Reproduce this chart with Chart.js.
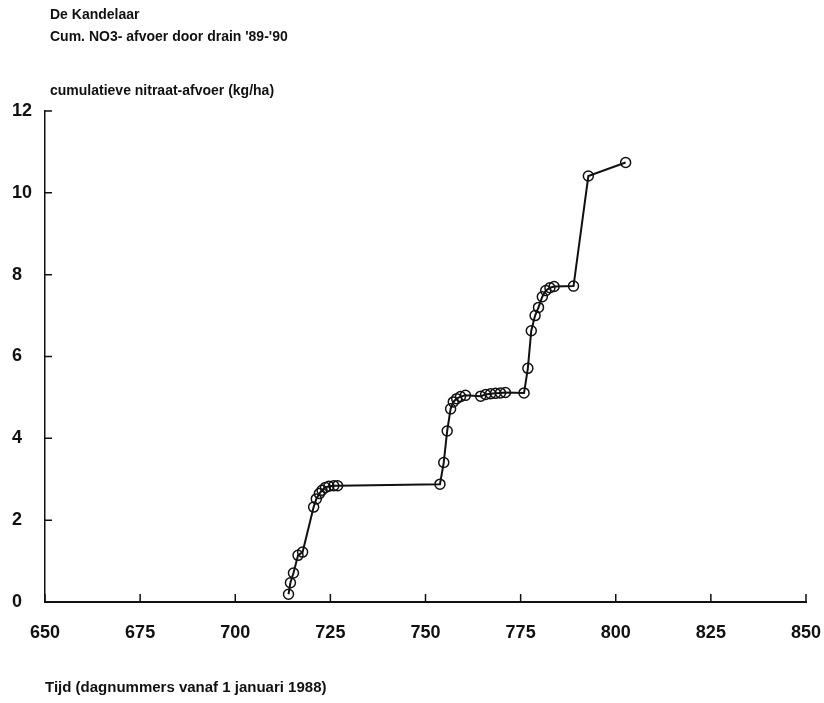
<!DOCTYPE html>
<html>
<head>
<meta charset="utf-8">
<script src="https://cdn.jsdelivr.net/npm/chart.js@4"></script>
<style>
  html, body { margin: 0; padding: 0; background: #fff; }
  #wrap { width: 824px; height: 703px; }
</style>
</head>
<body>
<div id="wrap"><canvas id="grafiek"></canvas></div>
<script>
// gegevens
const dagen = [714, 714.5, 715.3, 716.5, 717.7, 720.6, 721.3, 722.1, 722.8, 723.7, 724.6, 725.9, 726.9,
  753.8, 754.8, 755.7, 756.6, 757.3, 758.2, 759.2, 760.5, 764.5, 765.8, 767.1, 768.4, 769.7, 771,
  775.9, 776.9, 777.8, 778.8, 779.7, 780.7, 781.6, 782.7, 783.8, 788.9, 792.8, 802.6];
const afvoer = [0.19, 0.47, 0.71, 1.14, 1.22, 2.32, 2.52, 2.65, 2.73, 2.8, 2.83, 2.84, 2.84,
  2.88, 3.41, 4.18, 4.72, 4.89, 4.97, 5.02, 5.05, 5.03, 5.07, 5.09, 5.1, 5.11, 5.12,
  5.11, 5.71, 6.63, 7.0, 7.2, 7.46, 7.61, 7.68, 7.71, 7.72, 10.41, 10.74];
const xTicks = [650, 675, 700, 725, 750, 775, 800, 825, 850];
const yTicks = [0, 2, 4, 6, 8, 10, 12];

const titel = 'De Kandelaar';
const subtitel = "Cum. NO3- afvoer door drain '89-'90";
const yTitel = 'cumulatieve nitraat-afvoer (kg/ha)';
const xTitel = 'Tijd (dagnummers vanaf 1 januari 1988)';

const punten = dagen.map((d, i) => ({ x: d, y: afvoer[i] }));
const lettertype = '"Liberation Sans", Arial, sans-serif';

// teksten boven de grafiek en tickstreepjes naar binnen
const extra = {
  id: 'extra',
  afterDraw(chart) {
    const { ctx, chartArea, scales } = chart;
    ctx.save();
    ctx.fillStyle = '#111';
    ctx.textBaseline = 'middle';
    ctx.textAlign = 'left';
    ctx.font = 'bold 14px ' + lettertype;
    ctx.fillText(titel, chartArea.left + 5, 15);
    ctx.fillText(subtitel, chartArea.left + 5, 37);
    ctx.fillText(yTitel, chartArea.left + 5, chartArea.top - 20);

    ctx.strokeStyle = '#111';
    ctx.lineWidth = 1.5;
    ctx.beginPath();
    scales.y.ticks.forEach(t => {
      const py = scales.y.getPixelForValue(t.value);
      ctx.moveTo(chartArea.left, py);
      ctx.lineTo(chartArea.left + 7, py);
    });
    scales.x.ticks.forEach(t => {
      const px = scales.x.getPixelForValue(t.value);
      ctx.moveTo(px, chartArea.bottom);
      ctx.lineTo(px, chartArea.bottom - 8);
    });
    ctx.stroke();
    ctx.restore();
  }
};

const ctx1 = document.getElementById('grafiek');

new Chart(ctx1, {
  type: 'scatter',
  data: {
    datasets: [{
      data: punten,
      showLine: true,
      borderColor: '#111',
      borderWidth: 2,
      pointRadius: 5,
      pointBorderWidth: 1.5,
      pointBorderColor: '#111',
      pointBackgroundColor: 'rgba(255,255,255,0)',
      tension: 0
    }]
  },
  options: {
    responsive: true,
    maintainAspectRatio: false,
    animation: false,
    layout: { padding: { left: 12, right: 18, top: 111, bottom: 6 } },
    plugins: {
      legend: { display: false },
      tooltip: { enabled: false }
    },
    scales: {
      x: {
        type: 'linear',
        min: 650,
        max: 850,
        afterBuildTicks: s => { s.ticks = xTicks.map(v => ({ value: v })); },
        afterFit: s => { s.height = 95; s.paddingLeft = 0; s.paddingRight = 0; },
        grid: { display: false, drawTicks: false },
        border: { display: true, color: '#111', width: 2 },
        ticks: {
          padding: 20,
          color: '#111',
          font: { family: lettertype, size: 18, weight: 'bold' },
          maxRotation: 0
        },
        title: {
          display: true,
          text: xTitel,
          align: 'start',
          color: '#111',
          padding: { top: 30, bottom: 0 },
          font: { family: lettertype, size: 15, weight: 'bold' }
        }
      },
      y: {
        type: 'linear',
        min: 0,
        max: 12,
        afterBuildTicks: s => { s.ticks = yTicks.map(v => ({ value: v })); },
        afterFit: s => { s.width = 33; s.paddingTop = 0; s.paddingBottom = 0; },
        grid: { display: false, drawTicks: false },
        border: { display: true, color: '#111', width: 1.5 },
        ticks: {
          crossAlign: 'far',
          color: '#111',
          font: { family: lettertype, size: 18, weight: 'bold' }
        }
      }
    }
  },
  plugins: [extra]
});
</script>
</body>
</html>
